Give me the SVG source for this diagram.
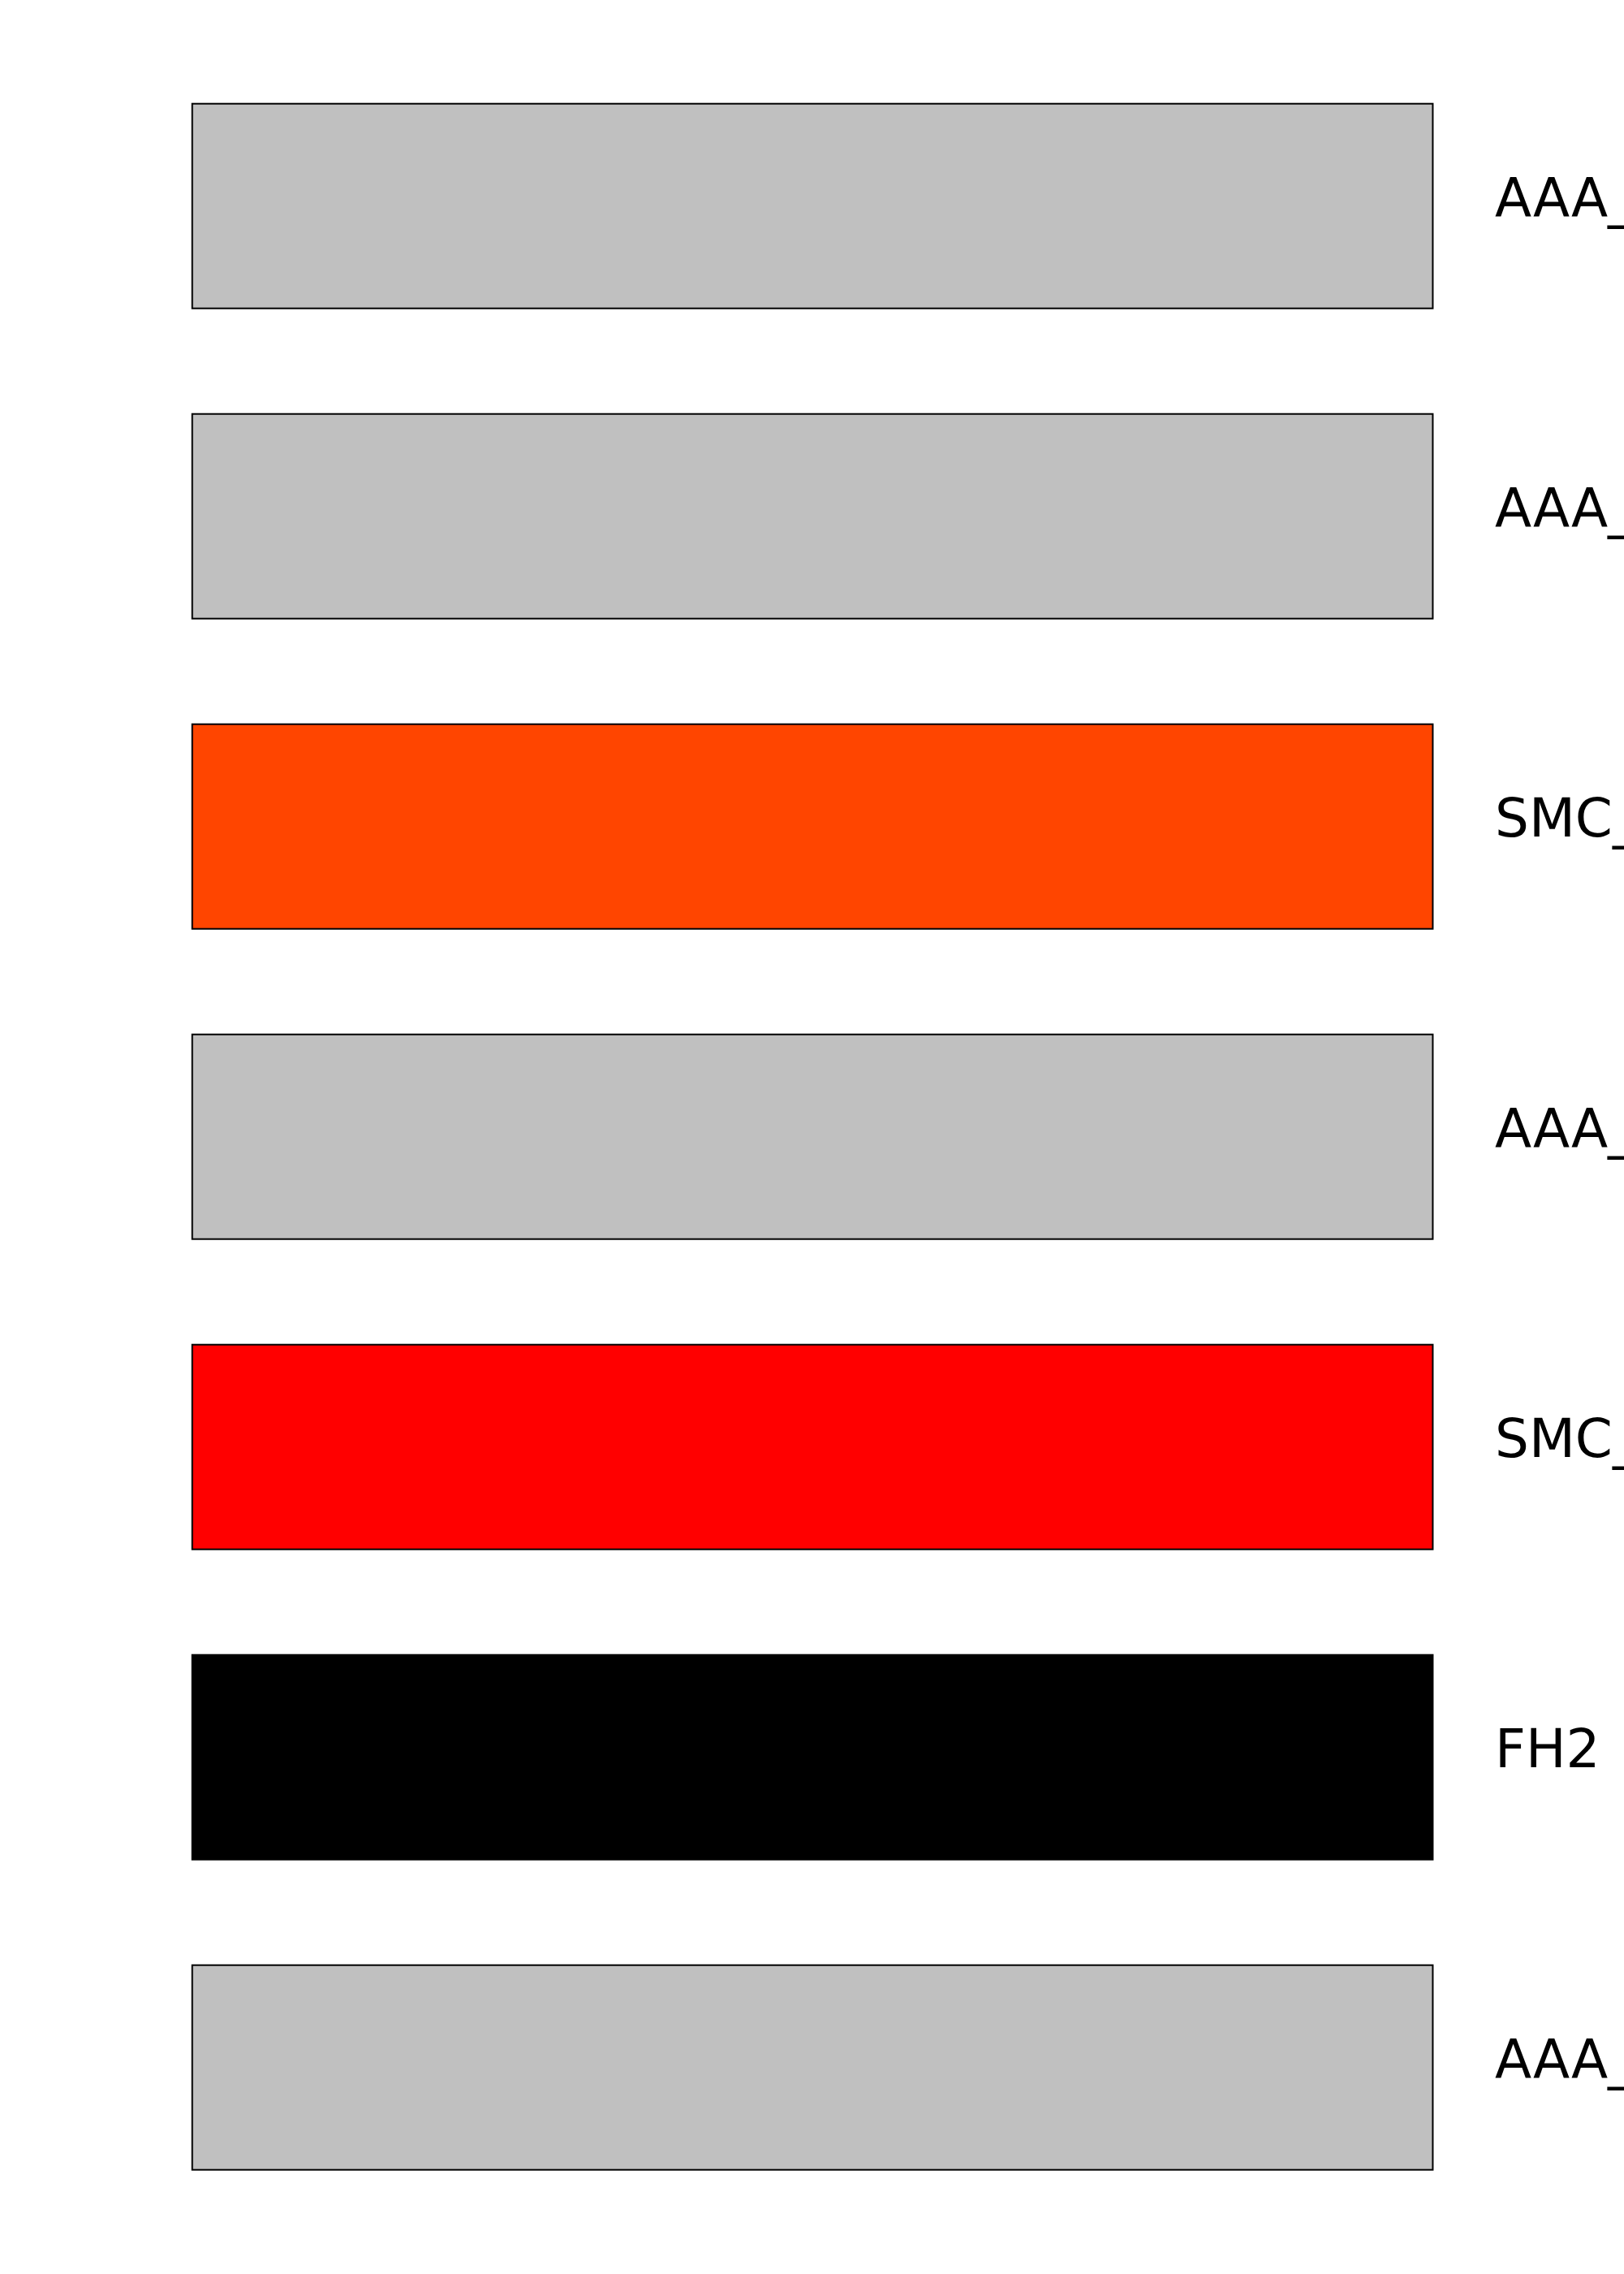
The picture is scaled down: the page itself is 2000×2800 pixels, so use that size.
<svg xmlns="http://www.w3.org/2000/svg" width="2000" height="2800" viewBox="0 0 2000 2800">
<style>
.bar{stroke:#000;stroke-width:2}
.lbl{font-family:"DejaVu Sans",sans-serif;font-size:66px;fill:#000}
</style>
<rect x="0" y="0" width="2000" height="2800" fill="#fff"/>
<g id="connectors"></g>
<g id="n1"><rect class="bar" x="236.7" y="127.7" width="1527.8" height="252" fill="#c0c0c0"/><text class="lbl" x="1841" y="266">AAA_</text></g>
<g id="n2"><rect class="bar" x="236.7" y="509.7" width="1527.8" height="252" fill="#c0c0c0"/><text class="lbl" x="1841" y="648">AAA_</text></g>
<g id="n3"><rect class="bar" x="236.7" y="891.7" width="1527.8" height="252" fill="#ff4500"/><text class="lbl" x="1841" y="1030">SMC_</text></g>
<g id="n4"><rect class="bar" x="236.7" y="1273.7" width="1527.8" height="252" fill="#c0c0c0"/><text class="lbl" x="1841" y="1412">AAA_</text></g>
<g id="n5"><rect class="bar" x="236.7" y="1655.7" width="1527.8" height="252" fill="#ff0000"/><text class="lbl" x="1841" y="1794">SMC_</text></g>
<g id="n6"><rect class="bar" x="236.7" y="2037.7" width="1527.8" height="252" fill="#000000"/><text class="lbl" x="1841" y="2176">FH2</text></g>
<g id="n7"><rect class="bar" x="236.7" y="2419.7" width="1527.8" height="252" fill="#c0c0c0"/><text class="lbl" x="1841" y="2558">AAA_</text></g>
</svg>
